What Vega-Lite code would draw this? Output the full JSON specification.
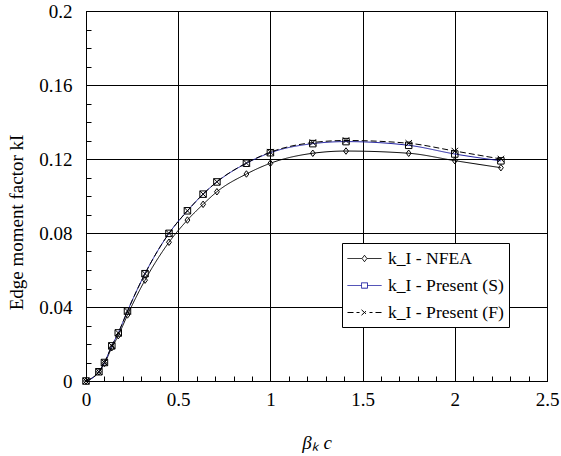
{
  "$schema": "https://vega.github.io/schema/vega-lite/v6.json",
  "width": 461,
  "height": 370,
  "autosize": "none",
  "padding": {"left": 86, "top": 11, "right": 14, "bottom": 75},
  "background": "white",
  "config": {
    "font": "Times New Roman, Liberation Serif, serif",
    "view": {"stroke": "black", "strokeWidth": 1},
    "axis": {
      "labelFont": "Times New Roman, Liberation Serif, serif",
      "titleFont": "Times New Roman, Liberation Serif, serif",
      "labelFontSize": 19,
      "titleFontSize": 19,
      "labelColor": "black",
      "titleColor": "black",
      "titleFontWeight": "normal",
      "domainColor": "black",
      "tickColor": "black",
      "gridColor": "black",
      "gridOpacity": 1
    },
    "legend": {"labelFont": "Times New Roman, Liberation Serif, serif"}
  },
  "data": {
    "values": [
      {"x": 0, "y": 0, "s": "k_I - NFEA"},
      {"x": 0.07, "y": 0.005, "s": "k_I - NFEA"},
      {"x": 0.1, "y": 0.0095, "s": "k_I - NFEA"},
      {"x": 0.14, "y": 0.018, "s": "k_I - NFEA"},
      {"x": 0.175, "y": 0.0245, "s": "k_I - NFEA"},
      {"x": 0.225, "y": 0.0357, "s": "k_I - NFEA"},
      {"x": 0.32, "y": 0.0545, "s": "k_I - NFEA"},
      {"x": 0.45, "y": 0.075, "s": "k_I - NFEA"},
      {"x": 0.55, "y": 0.087, "s": "k_I - NFEA"},
      {"x": 0.635, "y": 0.0955, "s": "k_I - NFEA"},
      {"x": 0.71, "y": 0.1023, "s": "k_I - NFEA"},
      {"x": 0.87, "y": 0.1119, "s": "k_I - NFEA"},
      {"x": 1.0, "y": 0.1177, "s": "k_I - NFEA"},
      {"x": 1.23, "y": 0.1231, "s": "k_I - NFEA"},
      {"x": 1.41, "y": 0.1243, "s": "k_I - NFEA"},
      {"x": 1.75, "y": 0.1231, "s": "k_I - NFEA"},
      {"x": 2.0, "y": 0.1191, "s": "k_I - NFEA"},
      {"x": 2.25, "y": 0.1153, "s": "k_I - NFEA"},
      {"x": 0, "y": 0, "s": "k_I - Present (S)"},
      {"x": 0.07, "y": 0.005, "s": "k_I - Present (S)"},
      {"x": 0.1, "y": 0.010, "s": "k_I - Present (S)"},
      {"x": 0.14, "y": 0.019, "s": "k_I - Present (S)"},
      {"x": 0.175, "y": 0.026, "s": "k_I - Present (S)"},
      {"x": 0.225, "y": 0.0378, "s": "k_I - Present (S)"},
      {"x": 0.32, "y": 0.058, "s": "k_I - Present (S)"},
      {"x": 0.45, "y": 0.0798, "s": "k_I - Present (S)"},
      {"x": 0.55, "y": 0.092, "s": "k_I - Present (S)"},
      {"x": 0.635, "y": 0.101, "s": "k_I - Present (S)"},
      {"x": 0.71, "y": 0.1076, "s": "k_I - Present (S)"},
      {"x": 0.87, "y": 0.1177, "s": "k_I - Present (S)"},
      {"x": 1.0, "y": 0.1234, "s": "k_I - Present (S)"},
      {"x": 1.23, "y": 0.1283, "s": "k_I - Present (S)"},
      {"x": 1.41, "y": 0.1294, "s": "k_I - Present (S)"},
      {"x": 1.75, "y": 0.1274, "s": "k_I - Present (S)"},
      {"x": 2.0, "y": 0.1227, "s": "k_I - Present (S)"},
      {"x": 2.25, "y": 0.119, "s": "k_I - Present (S)"},
      {"x": 0, "y": 0, "s": "k_I - Present (F)"},
      {"x": 0.07, "y": 0.005, "s": "k_I - Present (F)"},
      {"x": 0.1, "y": 0.010, "s": "k_I - Present (F)"},
      {"x": 0.14, "y": 0.019, "s": "k_I - Present (F)"},
      {"x": 0.175, "y": 0.026, "s": "k_I - Present (F)"},
      {"x": 0.225, "y": 0.0378, "s": "k_I - Present (F)"},
      {"x": 0.32, "y": 0.058, "s": "k_I - Present (F)"},
      {"x": 0.45, "y": 0.0798, "s": "k_I - Present (F)"},
      {"x": 0.55, "y": 0.092, "s": "k_I - Present (F)"},
      {"x": 0.635, "y": 0.101, "s": "k_I - Present (F)"},
      {"x": 0.71, "y": 0.1077, "s": "k_I - Present (F)"},
      {"x": 0.87, "y": 0.1178, "s": "k_I - Present (F)"},
      {"x": 1.0, "y": 0.1237, "s": "k_I - Present (F)"},
      {"x": 1.23, "y": 0.1289, "s": "k_I - Present (F)"},
      {"x": 1.41, "y": 0.1300, "s": "k_I - Present (F)"},
      {"x": 1.75, "y": 0.1285, "s": "k_I - Present (F)"},
      {"x": 2.0, "y": 0.1243, "s": "k_I - Present (F)"},
      {"x": 2.25, "y": 0.1200, "s": "k_I - Present (F)"}
    ]
  },
  "encoding": {
    "x": {
      "field": "x", "type": "quantitative",
      "scale": {"domain": [0, 2.5], "nice": false, "zero": false},
      "axis": {
        "title": "βₖ c",
        "titleFontStyle": "italic",
        "titleY": 52,
        "titleBaseline": "top",
        "values": [0,0.1,0.2,0.3,0.4,0.5,0.6,0.7,0.8,0.9,1,1.1,1.2,1.3,1.4,1.5,1.6,1.7,1.8,1.9,2,2.1,2.2,2.3,2.4,2.5],
        "labelExpr": "abs(round(datum.value*2)-datum.value*2) < 1e-6 ? format(datum.value, '~g') : ''",
        "gridOpacity": {"condition": {"test": "abs(round(datum.value*2)-datum.value*2) < 1e-6", "value": 1}, "value": 0},
        "tickSize": -5,
        "labelPadding": 14,
        "labelFlush": false
      }
    },
    "y": {
      "field": "y", "type": "quantitative",
      "scale": {"domain": [0, 0.2], "nice": false},
      "axis": {
        "title": "Edge moment factor kI",
        "titleX": -60,
        "titleY": 211,
        "values": [0,0.01,0.02,0.03,0.04,0.05,0.06,0.07,0.08,0.09,0.1,0.11,0.12,0.13,0.14,0.15,0.16,0.17,0.18,0.19,0.2],
        "labelExpr": "abs(round(datum.value*25)-datum.value*25) < 1e-6 ? format(datum.value, '~g') : ''",
        "gridOpacity": {"condition": {"test": "abs(round(datum.value*25)-datum.value*25) < 1e-6", "value": 1}, "value": 0},
        "tickSize": -5,
        "labelPadding": 19,
        "labelFlush": false
      }
    }
  },
  "layer": [
    {
      "mark": {"type": "line", "interpolate": "monotone", "strokeWidth": 1},
      "encoding": {
        "color": {
          "field": "s", "type": "nominal",
          "scale": {"domain": ["k_I - NFEA", "k_I - Present (S)", "k_I - Present (F)"], "range": ["black", "#1c1ca0", "black"]},
          "legend": {
            "title": null,
            "orient": "none",
            "legendX": 256,
            "legendY": 232,
            "fillColor": "white",
            "strokeColor": "black",
            "padding": 5,
            "cornerRadius": 0,
            "labelFont": "Times New Roman, Liberation Serif, serif",
            "labelFontSize": 17.6,
            "labelColor": "black",
            "labelLimit": 300,
            "symbolSize": 400,
            "symbolStrokeWidth": 1,
            "symbolOffset": 7,
            "rowPadding": 7,
            "labelOffset": 13,
            "encoding": {
              "symbols": {
                "shape": {"value": {"expr": "datum.value === 'k_I - NFEA' ? 'M-1.7,0H-0.28M0.28,0H1.7M0,-0.32L0.25,0L0,0.32L-0.25,0Z' : datum.value === 'k_I - Present (S)' ? 'M-1.7,0H-0.3M0.3,0H1.7M-0.3,-0.27H0.3V0.27H-0.3Z' : 'M-1.7,0H-1.1M1.1,0H1.7M-0.3,-0.27L0.3,0.27M-0.3,0.27L0.3,-0.27M-0.8,0H-0.5M0.5,0H0.8'"}},
                "strokeDash": {"value": [1, 0]},
                "fill": {"value": "transparent"}
              }
            }
          }
        },
        "strokeDash": {
          "field": "s", "type": "nominal",
          "scale": {"domain": ["k_I - NFEA", "k_I - Present (S)", "k_I - Present (F)"], "range": [[1, 0], [1, 0], [6, 3]]},
          "legend": null
        }
      }
    },
    {
      "transform": [{"filter": "datum.s === 'k_I - NFEA'"}],
      "mark": {"type": "point", "filled": false, "stroke": "black", "strokeWidth": 1, "size": 42, "opacity": 1, "shape": "M0,-1L0.75,0L0,1L-0.75,0Z"}
    },
    {
      "transform": [{"filter": "datum.s === 'k_I - Present (S)'"}],
      "mark": {"type": "point", "filled": false, "stroke": "black", "strokeWidth": 1, "size": 42, "opacity": 1, "shape": "square"}
    },
    {
      "transform": [{"filter": "datum.s === 'k_I - Present (F)'"}],
      "mark": {"type": "point", "filled": false, "stroke": "black", "strokeWidth": 1, "size": 42, "opacity": 1, "shape": "M-1,-1L1,1M-1,1L1,-1"}
    }
  ]
}
